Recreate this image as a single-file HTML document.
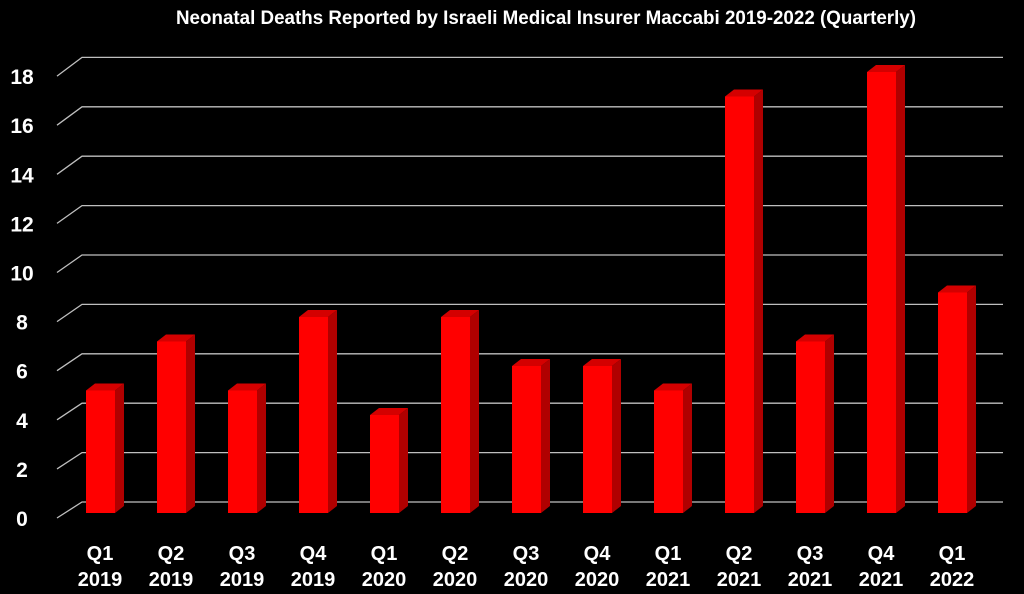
<!DOCTYPE html>
<html><head><meta charset="utf-8"><style>
html,body{margin:0;padding:0;background:#000;}
svg{display:block;font-family:"Liberation Sans",sans-serif;font-weight:bold;}
</style></head><body>
<svg id="chart" width="1024" height="594" viewBox="0 0 1024 594">
<text x="546" y="24" fill="#fff" font-size="19" text-anchor="middle" textLength="740" lengthAdjust="spacingAndGlyphs">Neonatal Deaths Reported by Israeli Medical Insurer Maccabi 2019-2022 (Quarterly)</text>
<g id="grid"></g><g id="bars"></g><g id="labels"></g>
</svg>
<script>
const quarters=["Q1","Q2","Q3","Q4","Q1","Q2","Q3","Q4","Q1","Q2","Q3","Q4","Q1"];
const years=["2019","2019","2019","2019","2020","2020","2020","2020","2021","2021","2021","2021","2022"];
const deaths=[5,7,5,8,4,8,6,6,5,17,7,18,9];
const ticks=[0,2,4,6,8,10,12,14,16,18];
const NS="http://www.w3.org/2000/svg";
function mk(t,a,p){const e=document.createElementNS(NS,t);for(const k in a)e.setAttribute(k,a[k]);p.appendChild(e);return e;}
const frontY=v=>513-v*24.5, backY=v=>502-v*24.7, gridFrontY=v=>518-v*24.55;
const xC=i=>100+i*71;
const grid=document.getElementById('grid'),bars=document.getElementById('bars'),labels=document.getElementById('labels');
ticks.forEach(t=>{
 const p=mk('polyline',{points:`57,${gridFrontY(t)} 82,${backY(t)} 1003,${backY(t)}`,fill:'none',stroke:'#bfbfbf','stroke-width':1.3},grid);
 
 
 const tx=mk('text',{x:22,y:gridFrontY(t)+8,fill:'#fff','font-size':21,'text-anchor':'middle'},labels);
 tx.textContent=t;
 
 
});
deaths.forEach((v,i)=>{
 const x0=xC(i)-14,x1=xC(i)+15,dx=9,dy=7,yb=513,yt=frontY(v);
 const g=mk('g',{},bars);
 
 
 mk('polygon',{points:`${x1},${yt} ${x1+dx},${yt-dy} ${x1+dx},${yb-dy} ${x1},${yb}`,fill:'#b00000'},g);
 mk('polygon',{points:`${x0},${yt} ${x0+dx},${yt-dy} ${x1+dx},${yt-dy} ${x1},${yt}`,fill:'#d40000'},g);
 mk('rect',{x:x0,y:yt,width:x1-x0,height:yb-yt,fill:'#ff0000'},g);
 const a=mk('text',{x:xC(i),y:560,fill:'#fff','font-size':20,'text-anchor':'middle'},labels);
 a.textContent=quarters[i];
 
 
 const b=mk('text',{x:xC(i),y:586,fill:'#fff','font-size':20,'text-anchor':'middle'},labels);
 b.textContent=years[i];
 
 
});
</script>
</body></html>
